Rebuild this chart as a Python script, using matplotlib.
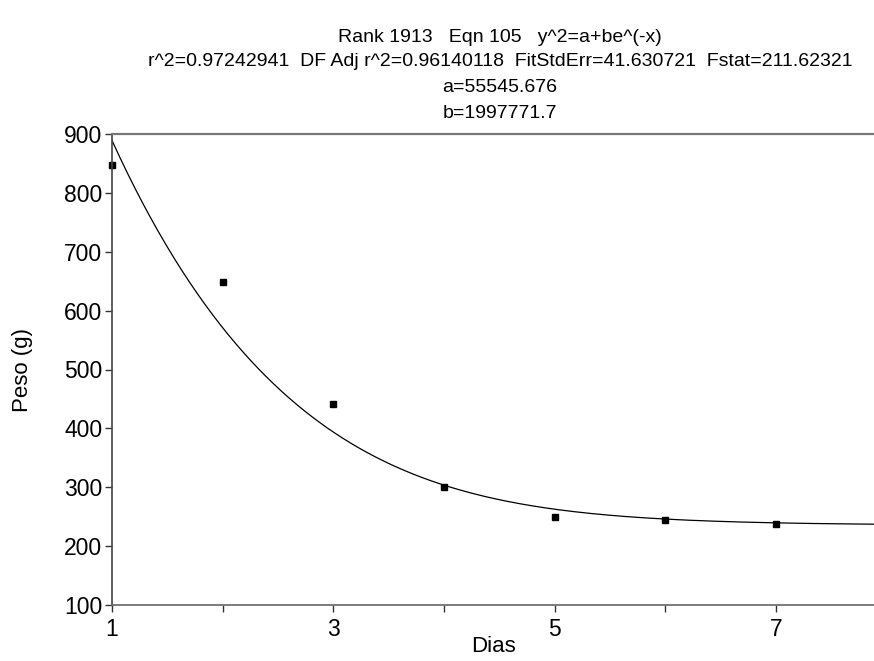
import numpy as np
import matplotlib
matplotlib.use('Agg')
import matplotlib.pyplot as plt

# observed points
dias = [1, 2, 3, 4, 5, 6, 7]
peso = [848, 648, 441, 301, 249, 244, 238]

# fitted model y^2 = a + b*exp(-x)
a = 55545.676
b = 1997771.7

title_lines = [
    'Rank 1913   Eqn 105   y^2=a+be^(-x)',
    'r^2=0.97242941  DF Adj r^2=0.96140118  FitStdErr=41.630721  Fstat=211.62321',
    'a=55545.676',
    'b=1997771.7',
]

plt.rcParams['font.family'] = ['Liberation Sans', 'DejaVu Sans']

fig = plt.figure(figsize=(8.74, 6.61), dpi=100)
ax = fig.add_axes([112 / 874, 1 - 605 / 661, 1 - 112 / 874 + 0.002, (605 - 134) / 661])

xs = np.linspace(1, 7.95, 400)
ax.plot(xs, np.sqrt(a + b * np.exp(-xs)), color='black', lw=0.9)
ax.plot(dias, peso, 's', color='black', ms=4.2, clip_on=False)

ax.set_xlim(1, 7.9)
ax.set_ylim(100, 900)
ax.set_xticks(dias)
ax.set_xticklabels(['1', '', '3', '', '5', '', '7'])
ax.set_yticks(range(100, 1000, 100))
ax.tick_params(direction='out', length=5, width=1, labelsize=16.5, colors='#333333',
               labelcolor='black', pad=2)
ax.tick_params(axis='x', pad=4)

ax.spines['right'].set_visible(False)
ax.spines['top'].set_color('#777777')
ax.spines['top'].set_linewidth(1.6)
ax.spines['bottom'].set_color('#666666')
ax.spines['bottom'].set_linewidth(1.2)
ax.spines['left'].set_color('#444444')
ax.spines['left'].set_linewidth(1.2)

ax.set_xlabel('Dias', fontsize=16, labelpad=-3)
ax.set_ylabel('Peso (g)', fontsize=16, labelpad=22)

ys = [37, 62, 88, 113]
for txt, yy in zip(title_lines, ys):
    fig.text(500 / 874, 1 - yy / 661, txt, ha='center', va='center', fontsize=14)

fig.savefig('out.png', dpi=100)
